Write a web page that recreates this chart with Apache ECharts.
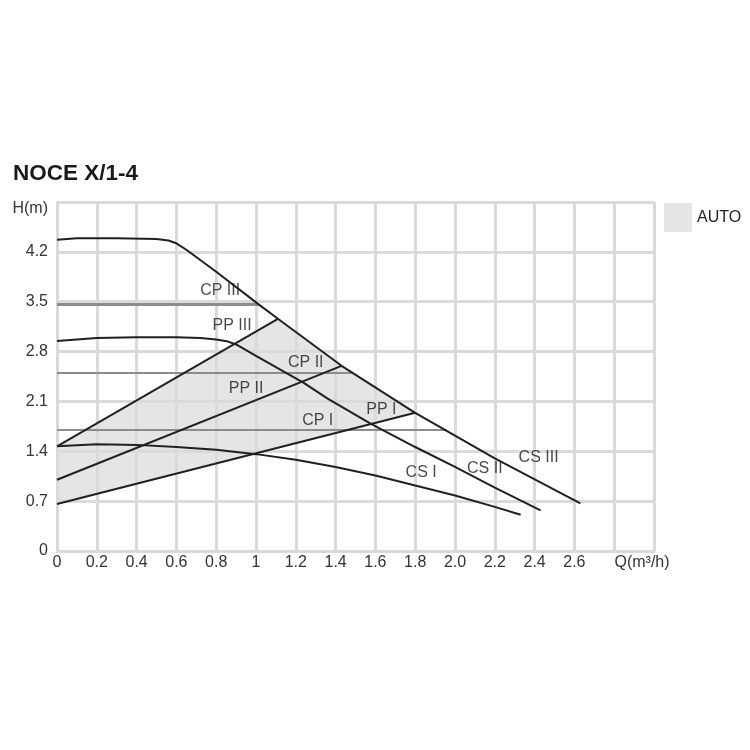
<!DOCTYPE html>
<html>
<head>
<meta charset="utf-8">
<script src="https://cdn.jsdelivr.net/npm/echarts@6/dist/echarts.min.js"></script>
<style>html,body{margin:0;padding:0;background:#fff;}#c{width:750px;height:750px;}</style>
</head>
<body>
<div id="c"></div>
<script>
// ---- data ----
const xTickLabels = ['0','0.2','0.4','0.6','0.8','1','1.2','1.4','1.6','1.8','2.0','2.2','2.4','2.6','','Q(m³/h)'];
const yTickLabels = ['0','0.7','1.4','2.1','2.8','3.5','4.2','H(m)'];

const csIII = [[0,4.37],[0.1,4.39],[0.3,4.39],[0.5,4.38],[0.56,4.36],[0.6,4.32],[0.65,4.23],[0.8,3.92],[1.01,3.47],[1.11,3.26],[1.43,2.60],[1.80,1.94],[2.2,1.30],[2.63,0.67]];
const csII  = [[0,2.95],[0.2,2.99],[0.4,3.0],[0.6,3.0],[0.72,2.99],[0.8,2.97],[0.86,2.94],[0.9,2.90],[1.0,2.74],[1.24,2.36],[1.36,2.14],[1.58,1.78],[1.8,1.46],[2.0,1.18],[2.2,0.89],[2.43,0.57]];
const csI   = [[0,1.47],[0.2,1.50],[0.4,1.49],[0.6,1.46],[0.8,1.42],[1.0,1.36],[1.2,1.28],[1.4,1.18],[1.6,1.06],[1.8,0.92],[2.0,0.78],[2.2,0.62],[2.33,0.51]];
const ppIII = [[0,1.47],[1.11,3.26]];
const ppII  = [[0,1.00],[1.43,2.60]];
const ppI   = [[0,0.66],[1.80,1.94]];
const cpIII = [[0,3.46],[1.015,3.46]];
const cpII  = [[0,2.50],[1.48,2.50]];
const cpI   = [[0,1.70],[1.957,1.70]];
const curveLabels = [
  [0.82,3.65,'CP III'],[0.88,3.16,'PP III'],[1.25,2.65,'CP II'],[0.95,2.28,'PP II'],
  [1.63,1.98,'PP I'],[1.31,1.83,'CP I'],[1.83,1.10,'CS I'],[2.15,1.15,'CS II'],[2.42,1.31,'CS III']
];

// AUTO zone polygon built from the curves
const autoPoly = [ppIII[0], ppIII[1]]
  .concat(csIII.filter(p => p[0] > ppIII[1][0] && p[0] < ppI[1][0]))
  .concat([ppI[1], ppI[0]]);

const FONT = 'Liberation Sans, Arial, sans-serif';
const GRID = '#dadada';
const CURVE = '#231f20';
const CPCOL = '#8c8c8c';
const FILL = 'rgba(0,0,0,0.1)';

const chart = echarts.init(document.getElementById('c'), null, {renderer:'canvas'});

function lineSeries(name, data, color, width, z) {
  return {type:'line', name:name, data:data, symbol:'none', smooth:false, z:z||3,
          lineStyle:{color:color, width:width}, silent:true, legendHoverLink:false};
}

chart.setOption({
  animation:false,
  backgroundColor:'#fff',
  title:{text:'NOCE X/1-4', left:8, top:157,
         textStyle:{fontFamily:FONT, fontWeight:'bold', fontSize:22.5, color:'#1a1a1a'}},
  legend:{data:[{name:'AUTO', icon:'rect'}], left:664, top:203, padding:0, itemWidth:28, itemHeight:29, itemGap:5,
          selectedMode:false, textStyle:{fontFamily:FONT, fontSize:16, color:'#222'}},
  grid:{left:57, right:96, top:202, bottom:199},
  xAxis:{type:'value', min:0, max:3.0, interval:0.2, z:1,
    axisLine:{show:true, lineStyle:{color:GRID, width:3}},
    axisTick:{show:false},
    splitLine:{show:true, lineStyle:{color:GRID, width:3}},
    axisLabel:{fontFamily:FONT, fontSize:16, color:'#333', margin:4,
      formatter:v => {
        const t = xTickLabels[Math.round(v/0.2)] || '';
        return t.indexOf('Q') === 0 ? '{q|' + t + '}' : t;
      },
      rich:{q:{fontFamily:FONT, fontSize:16, color:'#333', padding:[0,24,0,0]}}}},
  yAxis:{type:'value', min:0, max:4.9, interval:0.7, z:1,
    axisLine:{show:true, lineStyle:{color:GRID, width:3}},
    axisTick:{show:false},
    splitLine:{show:true, lineStyle:{color:GRID, width:3}},
    axisLabel:{fontFamily:FONT, fontSize:16, color:'#333', margin:9,
      formatter:v => {
        const t = yTickLabels[Math.round(v/0.7)] || '';
        return t.indexOf('H') === 0 ? '{h|' + t + '}' : t;
      },
      rich:{h:{fontFamily:FONT, fontSize:16, color:'#333', padding:[14,0,0,0]}}}},
  series:[
    {type:'custom', name:'AUTO', z:0, silent:true, itemStyle:{color:FILL},
     data:[0],
     renderItem:function(params, api){
       const pts = autoPoly.map(p => api.coord(p));
       return {type:'polygon', shape:{points:pts}, style:{fill:FILL}};
     }},
    lineSeries('cpIII', cpIII, CPCOL, 3),
    lineSeries('cpII', cpII, CPCOL, 2),
    lineSeries('cpI', cpI, CPCOL, 2),
    lineSeries('csIII', csIII, CURVE, 2),
    lineSeries('csII', csII, CURVE, 2),
    lineSeries('csI', csI, CURVE, 2),
    lineSeries('ppIII', ppIII, CURVE, 2),
    lineSeries('ppII', ppII, CURVE, 2),
    lineSeries('ppI', ppI, CURVE, 2),
    {type:'scatter', name:'labels', symbolSize:0, z:4, silent:true,
     data:curveLabels.map(d => ({value:[d[0],d[1]], name:d[2]})),
     label:{show:true, position:'inside', formatter:p => p.name,
            fontFamily:FONT, fontSize:16, color:'#1a1a1a'}}
  ]
});
</script>
</body>
</html>
